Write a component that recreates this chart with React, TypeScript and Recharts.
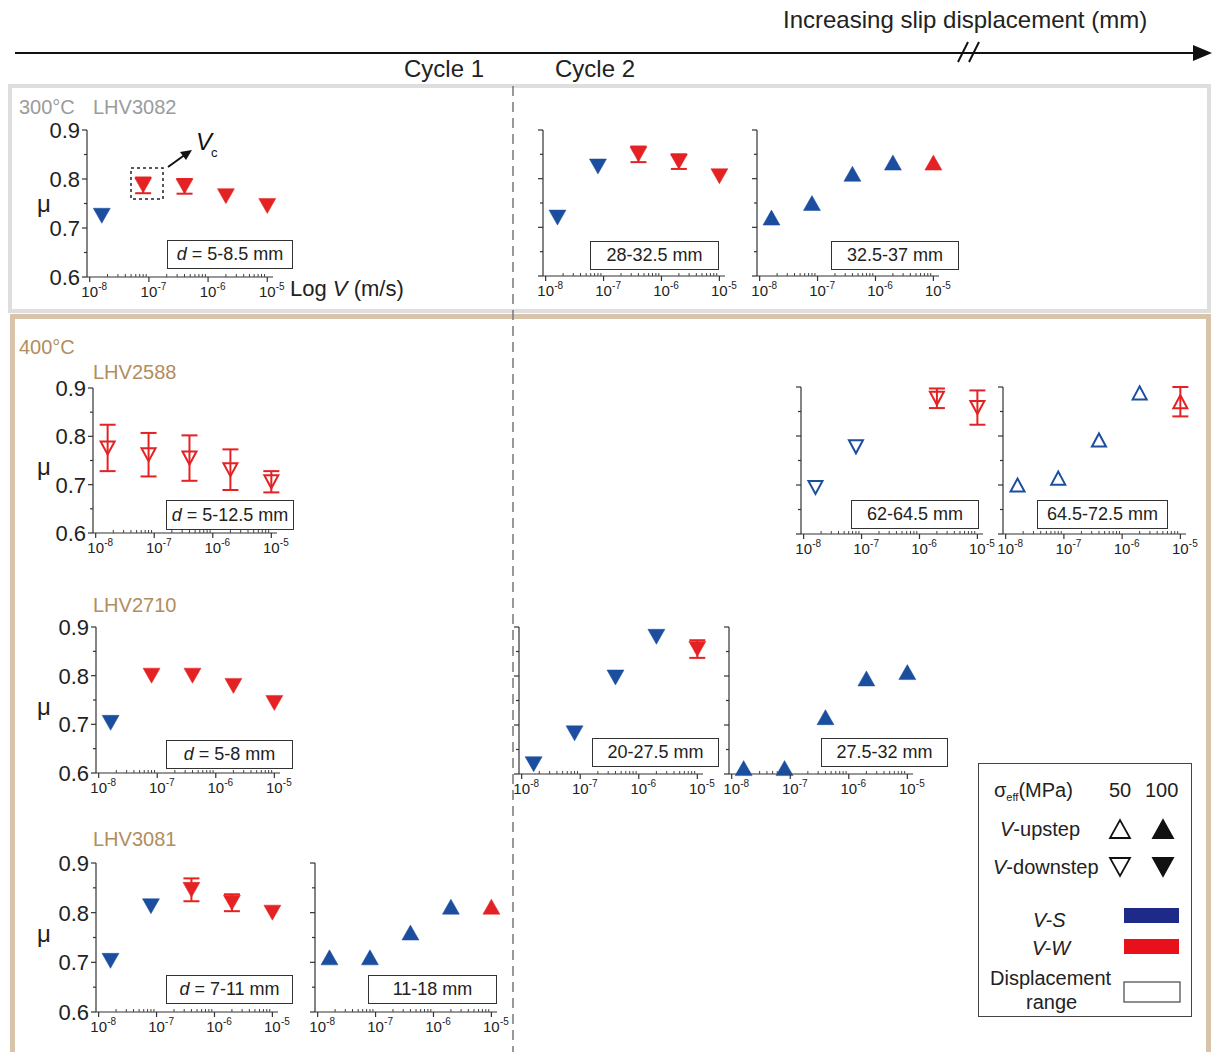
import React from "react";
import { ScatterChart, Scatter, XAxis, YAxis, ErrorBar } from "recharts";

// slip velocities of the steps (m/s)
const V_STEPS = [1.6e-8, 8e-8, 4e-7, 2e-6, 1e-5];

// LHV3082, 300°C, 100 MPa
const MU_3082_C1 = [0.725, 0.787, 0.785, 0.765, 0.745];
const ERR_3082_C1 = [0, 0.016, 0.015, 0, 0];
const COL_3082_C1 = ["S", "W", "W", "W", "W"];
const MU_3082_C2A = [0.72, 0.825, 0.85, 0.835, 0.805];
const ERR_3082_C2A = [0, 0, 0.016, 0.015, 0];
const COL_3082_C2A = ["S", "S", "W", "W", "W"];
const MU_3082_C2B = [0.72, 0.75, 0.81, 0.833, 0.833];
const ERR_3082_C2B = [0, 0, 0, 0, 0];
const COL_3082_C2B = ["S", "S", "S", "S", "W"];

// LHV2588, 400°C, 50 MPa
const MU_2588_C1 = [0.776, 0.762, 0.755, 0.731, 0.706];
const ERR_2588_C1 = [0.048, 0.045, 0.047, 0.042, 0.022];
const COL_2588_C1 = ["W", "W", "W", "W", "W"];
const MU_2588_C2A = [0.695, 0.778, null, 0.877, 0.858];
const ERR_2588_C2A = [0, 0, 0, 0.02, 0.035];
const COL_2588_C2A = ["S", "S", "S", "W", "W"];
const MU_2588_C2B = [0.7, 0.714, 0.792, 0.888, 0.87];
const ERR_2588_C2B = [0, 0, 0, 0, 0.03];
const COL_2588_C2B = ["S", "S", "S", "S", "W"];

// LHV2710, 400°C, 100 MPa
const MU_2710_C1 = [0.703, 0.8, 0.8, 0.779, 0.744];
const ERR_2710_C1 = [0, 0, 0, 0, 0];
const COL_2710_C1 = ["S", "W", "W", "W", "W"];
const MU_2710_C2A = [0.62, 0.683, 0.797, 0.88, 0.855];
const ERR_2710_C2A = [0, 0, 0, 0, 0.018];
const COL_2710_C2A = ["S", "S", "S", "S", "W"];
const MU_2710_C2B = [0.612, 0.612, 0.716, 0.795, 0.808];
const ERR_2710_C2B = [0, 0, 0, 0, 0];
const COL_2710_C2B = ["S", "S", "S", "S", "S"];

// LHV3081, 400°C, 100 MPa
const MU_3081_C1 = [0.703, 0.813, 0.846, 0.82, 0.8];
const ERR_3081_C1 = [0, 0, 0.023, 0.017, 0];
const COL_3081_C1 = ["S", "S", "W", "W", "W"];
const MU_3081_C2 = [0.71, 0.71, 0.76, 0.812, 0.812];
const ERR_3081_C2 = [0, 0, 0, 0, 0];
const COL_3081_C2 = ["S", "S", "S", "S", "W"];

const X_TICKS = [
  ...[-8, -7, -6].flatMap((e) => [1, 2, 3, 4, 5, 6, 7, 8, 9].map((k) => k * Math.pow(10, e))),
  1e-5,
];
const Y_TICKS = [0.6, 0.65, 0.7, 0.75, 0.8, 0.85, 0.9];
const Y_LABELS = ["0.6", "0.7", "0.8", "0.9"];
const X_DOMAIN = [0.9e-8, 1.25e-5];

const BLUE = "#1b4e9f";
const RED = "#e42224";
const INK = "#222";
const TAN = "#b28d5d";
const FONT = '"Liberation Sans", Arial, sans-serif';

const PANELS = [
  { axisX: 87, top: 130, bottom: 277, right: 273, yLabels: true, mu: MU_3082_C1, err: ERR_3082_C1, col: COL_3082_C1, dir: "down", hollow: false },
  { axisX: 543, top: 130, bottom: 276, right: 725, yLabels: false, mu: MU_3082_C2A, err: ERR_3082_C2A, col: COL_3082_C2A, dir: "down", hollow: false },
  { axisX: 757, top: 130, bottom: 276, right: 939, yLabels: false, mu: MU_3082_C2B, err: ERR_3082_C2B, col: COL_3082_C2B, dir: "up", hollow: false },
  { axisX: 93, top: 388, bottom: 533, right: 277, yLabels: true, mu: MU_2588_C1, err: ERR_2588_C1, col: COL_2588_C1, dir: "down", hollow: true },
  { axisX: 801, top: 387, bottom: 534, right: 983, yLabels: false, mu: MU_2588_C2A, err: ERR_2588_C2A, col: COL_2588_C2A, dir: "down", hollow: true },
  { axisX: 1003, top: 387, bottom: 534, right: 1186, yLabels: false, mu: MU_2588_C2B, err: ERR_2588_C2B, col: COL_2588_C2B, dir: "up", hollow: true },
  { axisX: 96, top: 627, bottom: 773, right: 280, yLabels: true, mu: MU_2710_C1, err: ERR_2710_C1, col: COL_2710_C1, dir: "down", hollow: false },
  { axisX: 519, top: 627, bottom: 774, right: 703, yLabels: false, mu: MU_2710_C2A, err: ERR_2710_C2A, col: COL_2710_C2A, dir: "down", hollow: false },
  { axisX: 729, top: 627, bottom: 774, right: 913, yLabels: false, mu: MU_2710_C2B, err: ERR_2710_C2B, col: COL_2710_C2B, dir: "up", hollow: false },
  { axisX: 96, top: 863, bottom: 1012, right: 278, yLabels: true, mu: MU_3081_C1, err: ERR_3081_C1, col: COL_3081_C1, dir: "down", hollow: false },
  { axisX: 315, top: 863, bottom: 1012, right: 497, yLabels: false, mu: MU_3081_C2, err: ERR_3081_C2, col: COL_3081_C2, dir: "up", hollow: false },
];

const BOXES = [
  { x: 167, y: 240, w: 126, h: 29, d: true, text: "5-8.5 mm" },
  { x: 590, y: 241, w: 129, h: 29, d: false, text: "28-32.5 mm" },
  { x: 831, y: 241, w: 128, h: 29, d: false, text: "32.5-37 mm" },
  { x: 166, y: 500, w: 128, h: 30, d: true, text: "5-12.5 mm" },
  { x: 851, y: 500, w: 128, h: 29, d: false, text: "62-64.5 mm" },
  { x: 1037, y: 500, w: 131, h: 29, d: false, text: "64.5-72.5 mm" },
  { x: 166, y: 740, w: 127, h: 29, d: true, text: "5-8 mm" },
  { x: 592, y: 738, w: 127, h: 29, d: false, text: "20-27.5 mm" },
  { x: 821, y: 738, w: 127, h: 29, d: false, text: "27.5-32 mm" },
  { x: 166, y: 975, w: 127, h: 29, d: true, text: "7-11 mm" },
  { x: 368, y: 975, w: 129, h: 29, d: false, text: "11-18 mm" },
];

const XTick = (props: any) => {
  const { x, y, payload } = props;
  const lg = Math.log10(payload.value);
  const e = Math.round(lg);
  const major = Math.abs(lg - e) < 1e-6;
  if (!major) return <line x1={x} x2={x} y1={y} y2={y - 3} stroke="#444" strokeWidth={1} />;
  return (
    <g>
      <line x1={x} x2={x} y1={y} y2={y + 5} stroke="#333" strokeWidth={1.2} />
      <text x={x} y={y + 20} textAnchor="middle" fontSize={15} fill={INK} fontFamily={FONT}>10</text>
      <text x={x + 8.5} y={y + 13} textAnchor="start" fontSize={10} fill={INK} fontFamily={FONT}>{e}</text>
    </g>
  );
};

const YTick = (props: any) => {
  const { x, y, payload, showLabel } = props;
  const v = payload.value;
  const major = Math.abs(v * 10 - Math.round(v * 10)) < 1e-6;
  const label = Y_LABELS.find((l) => Math.abs(parseFloat(l) - v) < 1e-6);
  return (
    <g>
      <line x1={x} x2={x - (major ? 5 : 3)} y1={y} y2={y} stroke="#333" strokeWidth={1.2} />
      {showLabel && label && (
        <text x={x - 7} y={y} dy="0.36em" textAnchor="end" fontSize={22} fill={INK} fontFamily={FONT}>{label}</text>
      )}
    </g>
  );
};

const triangle = (props: any) => {
  const { cx, cy, payload } = props;
  if (cx == null || cy == null) return <g />;
  const color = payload.col === "S" ? BLUE : RED;
  const up = payload.dir === "up";
  const hw = payload.hollow ? 7 : 8.5;
  const hh = payload.hollow ? 6.5 : 7.5;
  const pts = up
    ? `${cx - hw},${cy + hh} ${cx + hw},${cy + hh} ${cx},${cy - hh}`
    : `${cx - hw},${cy - hh} ${cx + hw},${cy - hh} ${cx},${cy + hh}`;
  return payload.hollow ? (
    <polygon points={pts} fill="none" stroke={color} strokeWidth={2} strokeLinejoin="miter" />
  ) : (
    <polygon points={pts} fill={color} stroke={color} strokeWidth={0.5} />
  );
};

function Panel({ p }: { p: any }) {
  const YW = 60;
  const XH = 30;
  const MT = 12;
  const MR = 12;
  const w = YW + (p.right - p.axisX) + MR;
  const h = MT + (p.bottom - p.top) + XH;
  const pts = V_STEPS.map((v, i) => ({
    v,
    mu: p.mu[i],
    err: p.err[i],
    col: p.col[i],
    dir: p.dir,
    hollow: p.hollow,
  })).filter((d) => d.mu != null);
  const plain = pts.filter((d) => !d.err);
  const withErr = pts.filter((d) => d.err);
  return (
    <div style={{ position: "absolute", left: p.axisX - YW, top: p.top - MT }}>
      <ScatterChart width={w} height={h} margin={{ top: MT, right: MR, bottom: 0, left: 0 }}>
        <XAxis
          type="number"
          dataKey="v"
          scale="log"
          domain={X_DOMAIN}
          ticks={X_TICKS}
          interval={0}
          height={XH}
          tickSize={0}
          tickMargin={0}
          tickLine={false}
          tick={(t: any) => <XTick {...t} />}
          axisLine={{ stroke: "#333", strokeWidth: 1.2 }}
        />
        <YAxis
          type="number"
          dataKey="mu"
          domain={[0.6, 0.9]}
          ticks={Y_TICKS}
          interval={0}
          width={YW}
          tickSize={0}
          tickMargin={0}
          tickLine={false}
          tick={(t: any) => <YTick {...t} showLabel={p.yLabels} />}
          axisLine={{ stroke: "#333", strokeWidth: 1.2 }}
        />
        <Scatter data={plain} shape={triangle} isAnimationActive={false} />
        {withErr.length > 0 && (
          <Scatter data={withErr} shape={triangle} isAnimationActive={false}>
            <ErrorBar dataKey="err" direction="y" width={8} stroke={RED} strokeWidth={2} />
          </Scatter>
        )}
      </ScatterChart>
    </div>
  );
}

const abs = (x: number, y: number, extra: any = {}) => ({
  position: "absolute" as const,
  left: x,
  top: y,
  whiteSpace: "nowrap" as const,
  lineHeight: 1,
  ...extra,
});

function Legend() {
  const tri = (cx: number, cy: number, up: boolean, filled: boolean) => {
    const hw = 10;
    const hh = 9;
    const pts = up
      ? `${cx - hw},${cy + hh} ${cx + hw},${cy + hh} ${cx},${cy - hh}`
      : `${cx - hw},${cy - hh} ${cx + hw},${cy - hh} ${cx},${cy + hh}`;
    return <polygon points={pts} fill={filled ? "#111" : "none"} stroke="#111" strokeWidth={1.8} />;
  };
  return (
    <>
      <div style={{ position: "absolute", left: 978, top: 763, width: 214, height: 254, border: "1.3px solid #444", boxSizing: "border-box", background: "#fff" }} />
      <div style={abs(994, 780, { fontSize: 20 })}>
        σ<sub style={{ fontSize: 11, verticalAlign: "-4px" }}>eff</sub>(MPa)
      </div>
      <div style={abs(1109, 780, { fontSize: 20 })}>50</div>
      <div style={abs(1145, 780, { fontSize: 20 })}>100</div>
      <div style={abs(1000, 819, { fontSize: 20 })}><i>V</i>-upstep</div>
      <div style={abs(993, 857, { fontSize: 20 })}><i>V</i>-downstep</div>
      <div style={abs(1033, 910, { fontSize: 20 })}><i>V-S</i></div>
      <div style={abs(1032, 938, { fontSize: 20 })}><i>V-W</i></div>
      <div style={abs(990, 968, { fontSize: 20 })}>Displacement</div>
      <div style={abs(1026, 992, { fontSize: 20 })}>range</div>
      <svg style={{ position: "absolute", left: 0, top: 0 }} width={1212} height={1052} pointerEvents="none">
        {tri(1120, 829, true, false)}
        {tri(1163, 829, true, true)}
        {tri(1120, 867, false, false)}
        {tri(1163, 867, false, true)}
        <rect x={1124} y={908} width={55} height={15} fill="#1e2a88" />
        <rect x={1124} y={939} width={55} height={15} fill="#e8101a" />
        <rect x={1124} y={982} width={56} height={20} fill="#fff" stroke="#444" strokeWidth={1.2} />
      </svg>
    </>
  );
}

export default function App() {
  return (
    <div style={{ position: "relative", width: 1212, height: 1052, background: "#fff", fontFamily: FONT, color: INK, overflow: "hidden" }}>
      <style>{`body{margin:0}`}</style>
      {/* frames */}
      <div style={{ position: "absolute", left: 8, top: 84, width: 1203, height: 229, border: "4px solid #dedede", boxSizing: "border-box" }} />
      <div style={{ position: "absolute", left: 10, top: 314, width: 1201, height: 750, border: "5px solid #d8c4aa", boxSizing: "border-box" }} />

      {/* header */}
      <div style={abs(783, 8, { fontSize: 24 })}>Increasing slip displacement (mm)</div>
      <div style={abs(404, 57, { fontSize: 24 })}>Cycle 1</div>
      <div style={abs(555, 57, { fontSize: 24 })}>Cycle 2</div>

      {/* group labels */}
      <div style={abs(19, 97, { fontSize: 20, color: "#9b9b9b" })}>300°C</div>
      <div style={abs(93, 97, { fontSize: 20, color: "#9b9b9b" })}>LHV3082</div>
      <div style={abs(19, 337, { fontSize: 20, color: TAN })}>400°C</div>
      <div style={abs(93, 362, { fontSize: 20, color: TAN })}>LHV2588</div>
      <div style={abs(93, 595, { fontSize: 20, color: TAN })}>LHV2710</div>
      <div style={abs(93, 829, { fontSize: 20, color: TAN })}>LHV3081</div>

      {/* mu labels */}
      {[192, 455, 695, 922].map((y) => (
        <div key={y} style={abs(37, y, { fontSize: 24 })}>μ</div>
      ))}

      <div style={abs(290, 278, { fontSize: 22 })}>
        Log <i>V</i> (m/s)
      </div>

      {PANELS.map((p, i) => (
        <Panel key={i} p={p} />
      ))}

      {BOXES.map((b, i) => (
        <div
          key={i}
          style={{
            position: "absolute",
            left: b.x,
            top: b.y,
            width: b.w,
            height: b.h,
            border: "1.3px solid #333",
            boxSizing: "border-box",
            background: "#fff",
            fontSize: 18,
            display: "flex",
            alignItems: "center",
            justifyContent: "center",
            whiteSpace: "nowrap",
          }}
        >
          {b.d ? (
            <span>
              <i>d</i> = {b.text}
            </span>
          ) : (
            b.text
          )}
        </div>
      ))}

      <Legend />

      <svg style={{ position: "absolute", left: 0, top: 0 }} width={1212} height={1052} pointerEvents="none">
        {/* displacement arrow */}
        <line x1={15} y1={53} x2={1198} y2={53} stroke="#111" strokeWidth={2} />
        <polygon points="1193,45 1212,53 1193,61" fill="#111" />
        <line x1={958} y1={62} x2={968} y2={42} stroke="#111" strokeWidth={2} />
        <line x1={969} y1={62} x2={979} y2={42} stroke="#111" strokeWidth={2} />
        {/* cycle separator */}
        <line x1={513} y1={86} x2={513} y2={1052} stroke="#777" strokeWidth={1.5} strokeDasharray="10 6" />
        {/* V_c annotation */}
        <rect x={131} y={168} width={32} height={31} fill="none" stroke="#222" strokeWidth={1.5} strokeDasharray="3 3" />
        <line x1={168} y1={167} x2={186} y2={154} stroke="#111" strokeWidth={2} />
        <polygon points="192,150 180,152 186,160" fill="#111" />
        <text x={196} y={150} fontSize={24} fontStyle="italic" fill="#111" fontFamily={FONT}>V</text>
        <text x={211} y={157} fontSize={13} fill="#111" fontFamily={FONT}>c</text>
      </svg>
    </div>
  );
}
